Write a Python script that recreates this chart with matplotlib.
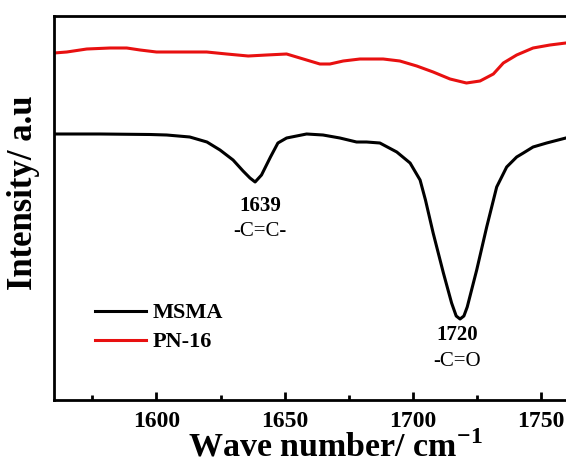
import matplotlib
matplotlib.use("Agg")
import matplotlib.pyplot as plt

plt.rcParams['font.family'] = ['Liberation Serif', 'DejaVu Serif']
plt.rcParams['mathtext.fontset'] = 'custom'
plt.rcParams['mathtext.rm'] = 'Liberation Serif'
plt.rcParams['mathtext.bf'] = 'Liberation Serif:bold'

# MSMA spectrum (wavenumber, intensity a.u.)
msma_x = [1560, 1578, 1597.5, 1604, 1613, 1619.7, 1624.8, 1629.9, 1633.8, 1636.5,
          1638.5, 1641, 1644.5, 1647.4, 1650.8, 1658.6, 1665, 1671.6, 1678.1, 1682,
          1687.2, 1693.8, 1699, 1702.9, 1705, 1708, 1712, 1715.2, 1717, 1718.5, 1720, 1721.3,
          1725, 1728.9, 1732.8, 1736.7, 1740.6, 1743.2, 1747, 1752.3, 1759.8]
msma_y = [266, 266, 265.5, 265, 263, 258, 250, 240, 229, 222,
          218, 225, 243, 257, 262, 266, 265, 262, 258, 258,
          257, 248, 237, 220, 200, 167, 127, 97, 84, 81, 84, 93,
          130, 173, 213, 233, 243, 247, 253, 257, 262]

# PN-16 spectrum
pn_x = [1560, 1565, 1572.8, 1581.9, 1588.4, 1593.6, 1600, 1609.2, 1619.6, 1627.4,
        1635.8, 1643, 1650.8, 1656, 1663.8, 1667.7, 1672.9, 1679.4, 1688.5, 1695,
        1701.6, 1708, 1714.6, 1721, 1726.3, 1731.5, 1735.4, 1740.6, 1747, 1753.6, 1759.8]
pn_y = [347, 348, 351, 352, 352, 350, 348, 348, 348, 346,
        344, 345, 346, 342, 336, 336, 339, 341, 341, 339,
        334, 328, 321, 317, 319, 326, 337, 345, 352, 355, 357]

series_labels = ["MSMA", "PN-16"]
annotations = [("1639", "-C=C-", 1640.4, 194, 168),
               ("1720", "-C=O", 1717.5, 64.5, 38.5)]
xticks_major = [1600, 1650, 1700, 1750]
xticks_minor = [1575, 1625, 1675, 1725, 1775]

fig = plt.figure(figsize=(5.66, 4.66), dpi=100)
ax = fig.add_axes([54/566, 1-400/466, (617.6-54)/566, 384/466])

ax.plot(msma_x, msma_y, color='black', lw=2.2, label=series_labels[0],
        solid_joinstyle='round')
ax.plot(pn_x, pn_y, color='#e81010', lw=2.2, label=series_labels[1],
        solid_joinstyle='round')

ax.set_xlim(1560, 1780)
ax.set_ylim(0, 384)
ax.set_xticks(xticks_major)
ax.set_xticks(xticks_minor, minor=True)
ax.set_yticks([])
ax.tick_params(axis='x', which='major', direction='in', length=6, width=2,
               labelsize=17, pad=8)
ax.tick_params(axis='x', which='minor', direction='in', length=3.5, width=2)
for lbl in ax.get_xticklabels():
    lbl.set_fontweight('bold')
for s in ax.spines.values():
    s.set_linewidth(2)

for num, grp, x, y1, y2 in annotations:
    ax.text(x, y1, num, ha='center', va='center', fontsize=15, fontweight='bold')
    ax.text(x, y2, grp, ha='center', va='center', fontsize=15)

ax.set_xlabel("Wave number/ cm$^{\\mathbf{-1}}$", fontsize=24.5, fontweight='bold', labelpad=-1)
ax.set_ylabel("Intensity/ a.u", fontsize=25, fontweight='bold')
ax.yaxis.set_label_coords(-0.025, 0.54)

leg = ax.legend(loc='center left', bbox_to_anchor=(95/566, 1-327.5/466),
                bbox_transform=fig.transFigure, frameon=False,
                prop={'size': 16, 'weight': 'bold'}, handlelength=2.3,
                handletextpad=0.3, labelspacing=0.38, borderpad=0, borderaxespad=0)

fig.savefig("out.png", dpi=100)
